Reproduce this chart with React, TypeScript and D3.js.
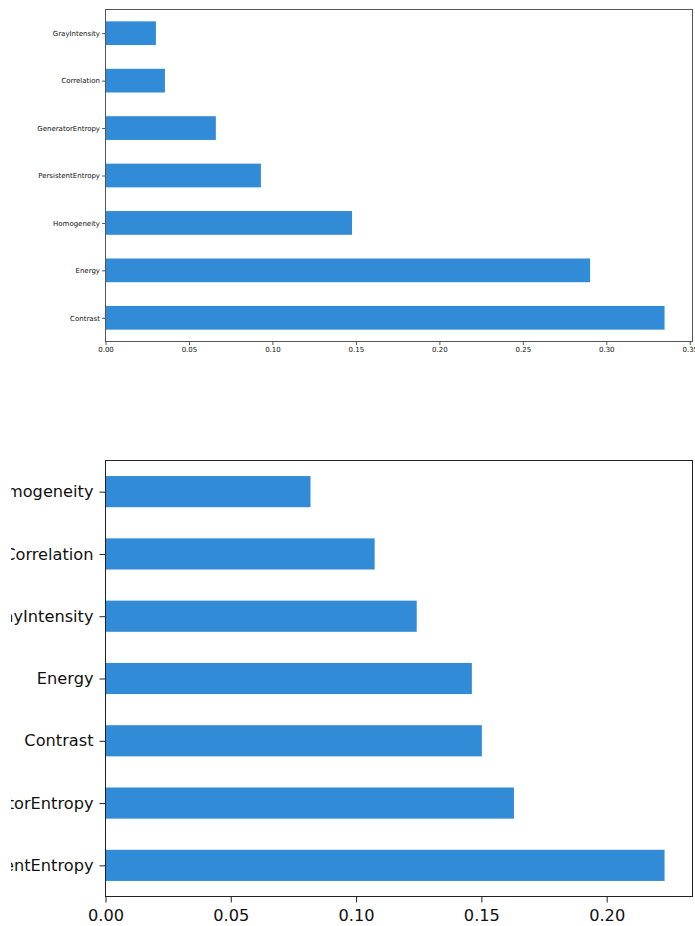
import React from "react";
import * as d3 from "d3";

// top chart: feature importances (listed bottom to top, as pandas draws barh)
const topFeatures = ["Contrast", "Energy", "Homogeneity", "PersistentEntropy", "GeneratorEntropy", "Correlation", "GrayIntensity"];
const topValues = [0.3349, 0.2903, 0.1477, 0.0931, 0.0661, 0.0356, 0.0302];
const topTicks = [0, 0.05, 0.1, 0.15, 0.2, 0.25, 0.3, 0.35];

// bottom chart
const bottomFeatures = ["PersistentEntropy", "GeneratorEntropy", "Contrast", "Energy", "GrayIntensity", "Correlation", "Homogeneity"];
const bottomValues = [0.2231, 0.163, 0.1502, 0.1462, 0.1242, 0.1074, 0.0818];
const bottomTicks = [0, 0.05, 0.1, 0.15, 0.2];

const BAR_COLOR = "#318bd6";

type Cfg = {
  left: number;
  top: number;
  width: number;
  height: number;
  font: number;
  tickSize: number;
  pad: number;
  ypad: number;
  spine: string;
  clip?: string;
};

const drawChart = (svg, names: string[], values: number[], ticks: number[], cfg: Cfg) => {
  const xMax = d3.max(values) * 1.05;
  const x = d3.scaleLinear().domain([0, xMax]).range([0, cfg.width]);
  const y = d3.scaleLinear().domain([-0.5, names.length - 0.5]).range([cfg.height, 0]);
  const outer = svg.append("g");
  if (cfg.clip) outer.attr("clip-path", `url(#${cfg.clip})`);
  const g = outer.append("g").attr("transform", `translate(${cfg.left},${cfg.top})`);

  g.selectAll(".bar")
    .data(values)
    .enter()
    .append("rect")
    .attr("x", x(0))
    .attr("y", (d, i) => y(i + 0.25))
    .attr("width", (d) => x(d) - x(0))
    .attr("height", (d, i) => y(i - 0.25) - y(i + 0.25))
    .attr("fill", BAR_COLOR);

  // frame
  g.append("rect")
    .attr("width", cfg.width)
    .attr("height", cfg.height)
    .attr("fill", "none")
    .attr("stroke", cfg.spine)
    .attr("stroke-width", 1);

  const xAxis = d3
    .axisBottom(x)
    .tickValues(ticks)
    .tickFormat(d3.format(".2f"))
    .tickSize(cfg.tickSize)
    .tickPadding(cfg.pad);
  const xg = g.append("g").attr("transform", `translate(0,${cfg.height})`).call(xAxis);
  xg.select(".domain").remove();

  const yAxis = d3
    .axisLeft(y)
    .tickValues(d3.range(names.length))
    .tickFormat((d) => names[d])
    .tickSize(cfg.tickSize)
    .tickPadding(cfg.ypad);
  const yg = g.append("g").call(yAxis);
  yg.select(".domain").remove();

  [xg, yg].forEach((ax) => {
    ax.selectAll("line").attr("stroke", cfg.spine);
    ax.selectAll("text")
      .attr("fill", "#111")
      .attr("font-size", cfg.font)
      .attr("font-family", "DejaVu Sans");
  });
};

const App = () => {
  const svgRef = React.useRef(null);

  React.useEffect(() => {
    const svg = d3.select(svgRef.current);
    svg.selectAll("*").remove();
    // the lower figure is cut off at its left edge
    svg.append("defs")
      .append("clipPath")
      .attr("id", "bottomClip")
      .append("rect")
      .attr("x", 11)
      .attr("y", 400)
      .attr("width", 684)
      .attr("height", 526);

    drawChart(svg, topFeatures, topValues, topTicks, {
      left: 105.5,
      top: 9.5,
      width: 587,
      height: 332,
      font: 7,
      tickSize: 3.5,
      pad: 2,
      ypad: 2,
      spine: "#555",
    });
    drawChart(svg, bottomFeatures, bottomValues, bottomTicks, {
      left: 105.5,
      top: 460.5,
      width: 587,
      height: 436,
      font: 16.2,
      tickSize: 6,
      pad: 7,
      ypad: 6,
      spine: "#222",
      clip: "bottomClip",
    });
  }, []);

  return (
    <svg
      ref={svgRef}
      width={695}
      height={926}
      style={{ position: "absolute", left: 0, top: 0, background: "#fff" }}
    />
  );
};

export default App;
